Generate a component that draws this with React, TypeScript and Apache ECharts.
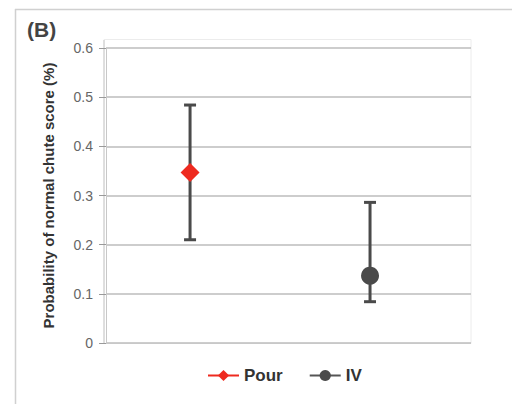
import React, { useEffect, useRef } from "react";
import * as echarts from "echarts";

const groups = ["Pour", "IV"];
const xPos = [1, 2];
const means = [0.347, 0.137];
const lowers = [0.21, 0.084];
const uppers = [0.484, 0.286];
const yTicks = [0, 0.1, 0.2, 0.3, 0.4, 0.5, 0.6];

const FONT = "'Liberation Sans', Arial, sans-serif";

export default function App() {
  const ref = useRef<HTMLDivElement>(null);
  useEffect(() => {
    const chart = echarts.init(ref.current!, null, { renderer: "svg" });
    const errData = xPos.map((x, i) => [x, lowers[i], uppers[i]]);
    chart.setOption({
      animation: false,
      backgroundColor: "#ffffff",
      grid: { left: 106, right: 41, top: 48, bottom: 61 },
      title: {
        text: "(B)",
        left: 22,
        top: 14,
        textStyle: { fontFamily: FONT, fontWeight: "bold", fontSize: 21, color: "#444" },
      },
      legend: {
        bottom: 15,
        left: 202,
        itemWidth: 31,
        itemHeight: 14,
        itemGap: 26,
        data: groups,
        textStyle: { fontFamily: FONT, fontWeight: "bold", fontSize: 17, color: "#333" },
      },
      graphic: [
        { type: "line", shape: { x1: 15.5, y1: 9, x2: 15.5, y2: 404 }, style: { stroke: "#d0d0d0", lineWidth: 1.5 } },
        { type: "line", shape: { x1: 15, y1: 9.5, x2: 512, y2: 9.5 }, style: { stroke: "#d0d0d0", lineWidth: 1.5 } },
        { type: "rect", shape: { x: 104, y: 39.5, width: 367, height: 304 }, style: { fill: "none", stroke: "#ececec", lineWidth: 1 }, z: -1 },
        { type: "line", shape: { x1: 104, y1: 40, x2: 104, y2: 343 }, style: { stroke: "#c8c8c8", lineWidth: 1 } },
      ],
      xAxis: {
        type: "value",
        min: 0.533,
        max: 2.561,
        show: false,
        splitLine: { show: false },
      },
      yAxis: {
        type: "value",
        min: 0,
        max: 0.6,
        interval: 0.1,
        name: "Probability of normal chute score (%)",
        nameLocation: "middle",
        nameGap: 50,
        nameTextStyle: { fontFamily: FONT, fontWeight: "bold", fontSize: 15, color: "#333" },
        axisLine: { show: true, lineStyle: { color: "#c8c8c8", width: 1 } },
        axisTick: { show: true, length: 7, lineStyle: { color: "#999", width: 1 } },
        axisLabel: {
          fontFamily: FONT,
          fontSize: 14,
          color: "#666",
          margin: 13,
          formatter: (v: number) => {
            const t = yTicks.find((k) => Math.abs(k - v) < 1e-9);
            return t === undefined ? "" : String(t);
          },
        },
        splitLine: { show: true, lineStyle: { color: "#bdbdbd", width: 1.5 } },
      },
      series: [
        {
          type: "custom",
          name: "err",
          z: 1,
          renderItem: (params: any, api: any) => {
            const x = api.value(0);
            const lo = api.coord([x, api.value(1)]);
            const hi = api.coord([x, api.value(2)]);
            const hw = 6;
            const style = { stroke: "#4a4a4a", lineWidth: 3 };
            return {
              type: "group",
              children: [
                { type: "line", shape: { x1: lo[0], y1: lo[1], x2: hi[0], y2: hi[1] }, style },
                { type: "line", shape: { x1: hi[0] - hw, y1: hi[1], x2: hi[0] + hw, y2: hi[1] }, style },
                { type: "line", shape: { x1: lo[0] - hw, y1: lo[1], x2: lo[0] + hw, y2: lo[1] }, style },
              ],
            };
          },
          encode: { x: 0, y: [1, 2] },
          data: errData,
        },
        {
          type: "line",
          name: groups[0],
          z: 3,
          symbol: "diamond",
          symbolSize: 19,
          itemStyle: { color: "#ee2a1f" },
          lineStyle: { color: "#ee2a1f", width: 1.5 },
          data: [[xPos[0], means[0]]],
        },
        {
          type: "line",
          name: groups[1],
          z: 3,
          symbol: "circle",
          symbolSize: 18,
          itemStyle: { color: "#4a4a4a" },
          lineStyle: { color: "#555", width: 1.5 },
          data: [[xPos[1], means[1]]],
        },
      ],
    });
    return () => chart.dispose();
  }, []);
  return <div ref={ref} style={{ width: 512, height: 404, position: "absolute", left: 0, top: 0 }} />;
}
